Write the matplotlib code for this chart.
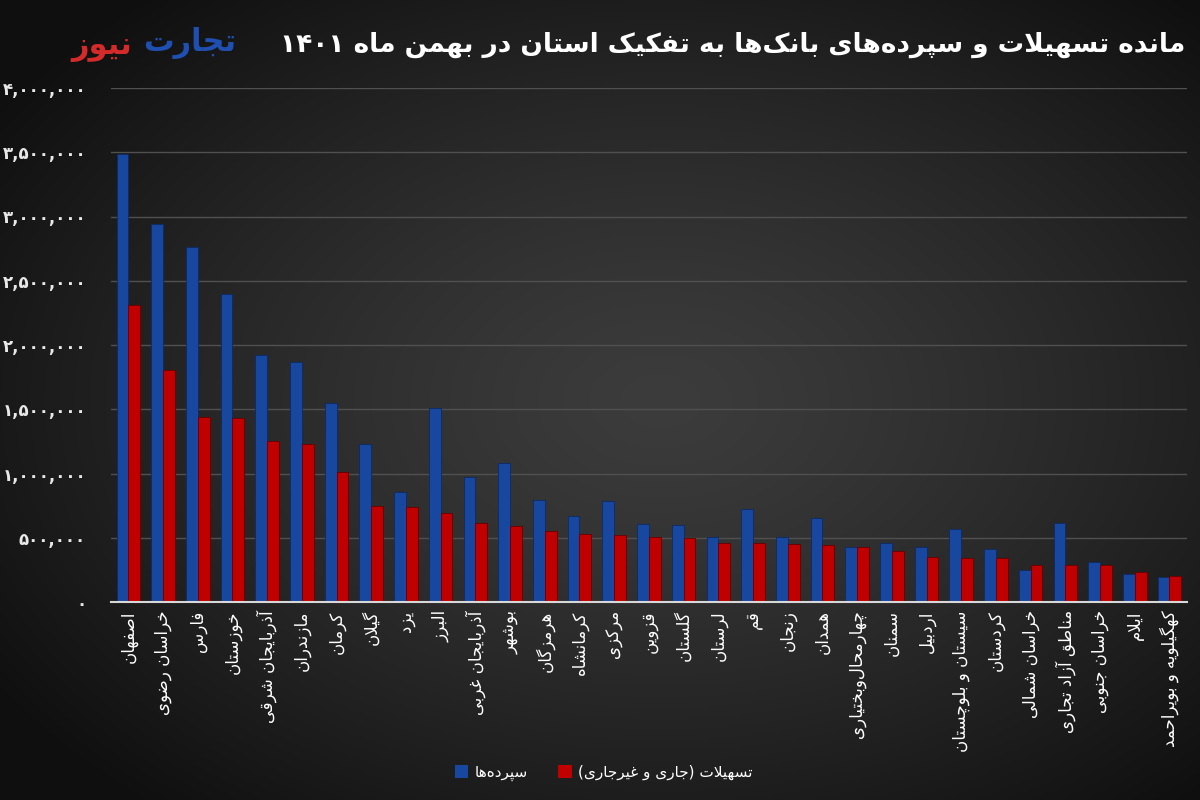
import re
import numpy as np
import matplotlib
matplotlib.use("Agg")
import matplotlib.pyplot as plt
from matplotlib.ticker import FuncFormatter
from matplotlib.patches import Patch

# ---------------- data ----------------
provinces = [
    "اصفهان", "خراسان رضوی", "فارس", "خوزستان", "آذربایجان شرقی", "مازندران",
    "کرمان", "گیلان", "یزد", "البرز", "آذربایجان غربی", "بوشهر", "هرمزگان",
    "کرمانشاه", "مرکزی", "قزوین", "گلستان", "لرستان", "قم", "زنجان", "همدان",
    "چهارمحال\u200cوبختیاری", "سمنان", "اردبیل", "سیستان و بلوچستان", "کردستان",
    "خراسان شمالی", "مناطق آزاد تجاری", "خراسان جنوبی", "ایلام",
    "کهگیلویه و بویراحمد",
]
deposits = [
    3490000, 2940000, 2765000, 2400000, 1920000, 1865000, 1550000, 1230000,
    855000, 1507000, 975000, 1080000, 794000, 672000, 786000, 604000, 599000,
    508000, 721000, 508000, 651000, 430000, 462000, 430000, 566000, 412000,
    249000, 617000, 309000, 215000, 197000,
]
loans = [
    2310000, 1805000, 1440000, 1430000, 1255000, 1230000, 1015000, 747000,
    737000, 695000, 617000, 594000, 555000, 529000, 521000, 503000, 495000,
    457000, 457000, 451000, 444000, 430000, 400000, 348000, 345000, 340000,
    288000, 288000, 288000, 236000, 202000,
]
series_names = ["سپرده\u200cها", "تسهیلات (جاری و غیرجاری)"]
title_text = "مانده تسهیلات و سپرده\u200cهای بانک\u200cها به تفکیک استان در بهمن ماه ۱۴۰۱"
logo_parts = ["تجارت", "نیوز"]
yticks = [0, 500000, 1000000, 1500000, 2000000, 2500000, 3000000, 3500000, 4000000]

# ---------------- minimal Persian shaping / bidi ----------------
FORMS = {
    'ا': ('\uFE8D', '\uFE8E', None, None),
    'آ': ('\uFE81', '\uFE82', None, None),
    'ب': ('\uFE8F', '\uFE90', '\uFE91', '\uFE92'),
    'پ': ('\uFB56', '\uFB57', '\uFB58', '\uFB59'),
    'ت': ('\uFE95', '\uFE96', '\uFE97', '\uFE98'),
    'ث': ('\uFE99', '\uFE9A', '\uFE9B', '\uFE9C'),
    'ج': ('\uFE9D', '\uFE9E', '\uFE9F', '\uFEA0'),
    'چ': ('\uFB7A', '\uFB7B', '\uFB7C', '\uFB7D'),
    'ح': ('\uFEA1', '\uFEA2', '\uFEA3', '\uFEA4'),
    'خ': ('\uFEA5', '\uFEA6', '\uFEA7', '\uFEA8'),
    'د': ('\uFEA9', '\uFEAA', None, None),
    'ذ': ('\uFEAB', '\uFEAC', None, None),
    'ر': ('\uFEAD', '\uFEAE', None, None),
    'ز': ('\uFEAF', '\uFEB0', None, None),
    'ژ': ('\uFB8A', '\uFB8B', None, None),
    'س': ('\uFEB1', '\uFEB2', '\uFEB3', '\uFEB4'),
    'ش': ('\uFEB5', '\uFEB6', '\uFEB7', '\uFEB8'),
    'ص': ('\uFEB9', '\uFEBA', '\uFEBB', '\uFEBC'),
    'ض': ('\uFEBD', '\uFEBE', '\uFEBF', '\uFEC0'),
    'ط': ('\uFEC1', '\uFEC2', '\uFEC3', '\uFEC4'),
    'ظ': ('\uFEC5', '\uFEC6', '\uFEC7', '\uFEC8'),
    'ع': ('\uFEC9', '\uFECA', '\uFECB', '\uFECC'),
    'غ': ('\uFECD', '\uFECE', '\uFECF', '\uFED0'),
    'ف': ('\uFED1', '\uFED2', '\uFED3', '\uFED4'),
    'ق': ('\uFED5', '\uFED6', '\uFED7', '\uFED8'),
    'ک': ('\uFB8E', '\uFB8F', '\uFB90', '\uFB91'),
    'گ': ('\uFB92', '\uFB93', '\uFB94', '\uFB95'),
    'ل': ('\uFEDD', '\uFEDE', '\uFEDF', '\uFEE0'),
    'م': ('\uFEE1', '\uFEE2', '\uFEE3', '\uFEE4'),
    'ن': ('\uFEE5', '\uFEE6', '\uFEE7', '\uFEE8'),
    'ه': ('\uFEE9', '\uFEEA', '\uFEEB', '\uFEEC'),
    'و': ('\uFEED', '\uFEEE', None, None),
    'ی': ('\uFBFC', '\uFBFD', '\uFBFE', '\uFBFF'),
}
LIG = {'LA': ('\uFEFB', '\uFEFC'), 'LAA': ('\uFEF5', '\uFEF6')}


def fa(s):
    units, i = [], 0
    while i < len(s):
        c = s[i]
        if c == 'ل' and i + 1 < len(s) and s[i + 1] in ('ا', 'آ'):
            units.append('LA' if s[i + 1] == 'ا' else 'LAA')
            i += 2
        else:
            units.append(c)
            i += 1

    def is_letter(u):
        return u in FORMS or u in LIG

    def joins_next(u):
        return u in FORMS and FORMS[u][2] is not None

    res = []
    for k, u in enumerate(units):
        prev = units[k - 1] if k > 0 else None
        nxt = units[k + 1] if k + 1 < len(units) else None
        p = prev is not None and joins_next(prev) and is_letter(u)
        if u in LIG:
            res.append(LIG[u][1] if p else LIG[u][0])
            continue
        if u not in FORMS:
            if u != '\u200c':
                res.append(u)
            continue
        f = FORMS[u]
        nj = f[2] is not None and nxt is not None and is_letter(nxt)
        if p and nj:
            res.append(f[3])
        elif p:
            res.append(f[1])
        elif nj:
            res.append(f[2])
        else:
            res.append(f[0])
    rev = ''.join(res)[::-1]
    rev = ''.join({'(': ')', ')': '('}.get(c, c) for c in rev)
    rev = re.sub(r'[0-9\u06F0-\u06F9][0-9\u06F0-\u06F9,.]*', lambda m: m.group(0)[::-1], rev)
    return rev


FA_DIGITS = str.maketrans("0123456789", "۰۱۲۳۴۵۶۷۸۹")

# ---------------- figure ----------------
plt.rcParams['font.family'] = ['DejaVu Sans']
fig = plt.figure(figsize=(12, 8), dpi=100)

# background gradient
bg = fig.add_axes([0, 0, 1, 1], zorder=-10)
H, W = 400, 600
yy, xx = np.mgrid[0:H, 0:W]
cx, cy = 0.55 * W, 0.50 * H
r = np.sqrt(((xx - cx) / (0.62 * W)) ** 2 + ((yy - cy) / (0.62 * H)) ** 2)
val = np.clip(0.235 - 0.16 * r ** 1.3, 0.06, 1)
img = np.dstack([val, val, val])
bg.imshow(img, aspect='auto', extent=[0, 1, 0, 1], origin='upper')
bg.set_axis_off()

ax = fig.add_axes([0.0925, 0.2475, 0.8965, 0.6425])
ax.set_facecolor('none')

x = np.arange(len(provinces))
w = 0.34
blue = '#1847a0'
red = '#c00000'
ax.bar(x - w / 2, deposits, width=w, color=blue, edgecolor='#0d2a66', linewidth=0.6, zorder=3)
ax.bar(x + w / 2, loans, width=w, color=red, edgecolor='#6a0000', linewidth=0.6, zorder=3)

ax.set_xlim(-0.5, len(provinces) - 0.5)
ax.set_ylim(0, 4000000)
ax.set_yticks(yticks)
ax.yaxis.set_major_formatter(FuncFormatter(lambda v, p: f"{int(v):,}".translate(FA_DIGITS)))
ax.grid(axis='y', color='#505050', linewidth=1, zorder=0)
ax.set_axisbelow(True)

for s in ['top', 'right', 'left']:
    ax.spines[s].set_visible(False)
ax.spines['bottom'].set_color('#d8d8d8')
ax.spines['bottom'].set_linewidth(1.5)
ax.spines['bottom'].set_zorder(4)

ax.set_xticks(x)
ax.set_xticklabels([fa(p) for p in provinces], rotation=90, fontsize=12, color='white')
ax.tick_params(axis='x', length=0, pad=6)
ax.tick_params(axis='y', length=0, pad=18, labelsize=12, labelcolor='#e8e8e8')
for lab in ax.get_yticklabels():
    lab.set_fontweight('bold')

# title and logo
fig.text(0.988, 0.944, fa(title_text), ha='right', va='center', fontsize=19,
         fontweight='bold', color='white')
fig.text(0.197, 0.946, fa(logo_parts[0]), ha='right', va='center', fontsize=22,
         fontweight='bold', color='#1f4fb0')
fig.text(0.110, 0.940, fa(logo_parts[1]), ha='right', va='center', fontsize=22,
         fontweight='bold', color='#d42a2a')

# legend
handles = [Patch(facecolor=blue, edgecolor='none'), Patch(facecolor=red, edgecolor='none')]
leg = fig.legend(handles, [fa(n) for n in series_names], loc='center',
                 bbox_to_anchor=(0.503, 0.034), ncol=2, frameon=False,
                 fontsize=11, handlelength=0.9, handleheight=0.9, handletextpad=0.4,
                 columnspacing=2.0)
for t in leg.get_texts():
    t.set_color('white')

fig.savefig('out.png', dpi=100)
